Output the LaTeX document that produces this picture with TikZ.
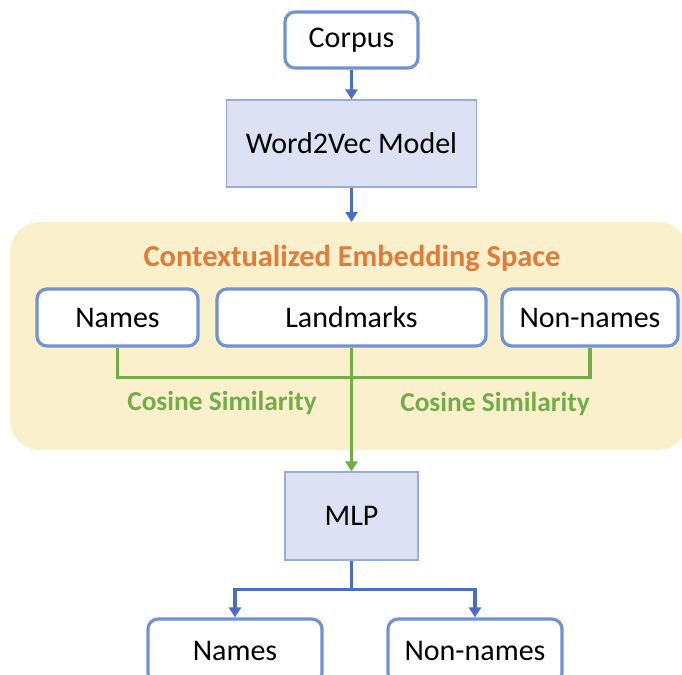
\documentclass[tikz,border=0pt]{standalone}
\usepackage{fontspec}
\setmainfont{Carlito}
\usetikzlibrary{arrows.meta}
\definecolor{boxblue}{HTML}{6F93D3}
\definecolor{arrblue}{HTML}{4A6FC2}
\definecolor{lav}{HTML}{DCE1F3}
\definecolor{lavline}{HTML}{97ABDD}
\definecolor{ygreen}{HTML}{72AD47}
\definecolor{orng}{HTML}{E07B39}
\definecolor{ybg}{HTML}{FBF0CC}
\tikzset{
  rbox/.style={draw=boxblue, line width=1.6pt, rounded corners=5pt, fill=white,
    inner sep=0pt, font=\fontsize{15}{18}\selectfont},
  fbox/.style={draw=lavline, line width=0.6pt, fill=lav, inner sep=0pt,
    font=\fontsize{15}{18}\selectfont},
  barrow/.style={draw=arrblue, line width=1.6pt, -{Triangle[width=6pt,length=5pt]}},
  gline/.style={draw=ygreen, line width=1.6pt},
  cslabel/.style={text=ygreen, font=\bfseries\fontsize{13.7}{16}\selectfont},
}
\begin{document}
\begin{tikzpicture}[x=0.5pt,y=-0.5pt]
\useasboundingbox (0,0) rectangle (682,675);
\fill[ybg, rounded corners=15pt] (10,222) rectangle (688,450);
\coordinate (ytop) at (351.5,222);
\node[rbox, minimum width=66.5pt, minimum height=28pt] (corpus) at (351.5,40) {\raisebox{-1pt}{Corpus}};
\node[fbox, minimum width=125pt, minimum height=43.5pt] (w2v) at (351.5,143.5) {Word2Vec Model};
\node[text=orng, font=\bfseries\fontsize{15.2}{18}\selectfont] (title) at (352,258) {Contextualized Embedding Space};
\node[rbox, minimum width=80.5pt, minimum height=28.5pt] (names) at (117.5,317.5) {Names};
\node[rbox, minimum width=134.5pt, minimum height=28.5pt] (land) at (351.5,317.5) {Landmarks};
\node[rbox, minimum width=88pt, minimum height=28.5pt] (non) at (590,317.5) {Non-names};
\node[cslabel] (cs1) at (222,403) {Cosine Similarity};
\node[cslabel] (cs2) at (495,404) {Cosine Similarity};
\node[fbox, minimum width=66.5pt, minimum height=44pt] (mlp) at (351.5,516) {MLP};
\node[rbox, minimum width=87pt, minimum height=32pt] (bnames) at (235,651) {Names};
\node[rbox, minimum width=87pt, minimum height=32pt] (bnon) at (475,651) {Non-names};
\draw[barrow] (corpus.south) -- (w2v.north);
\draw[barrow] (w2v.south) -- (ytop);
\draw[gline] (names.south) -- ++(0,30) -| (non.south);
\draw[gline, -{Triangle[width=6pt,length=5pt]}] (land.south) -- (mlp.north);
\draw[barrow] (mlp.south) -- ++(0,29) -| (bnames.north);
\draw[barrow] (mlp.south) -- ++(0,29) -| (bnon.north);
\end{tikzpicture}
\end{document}
